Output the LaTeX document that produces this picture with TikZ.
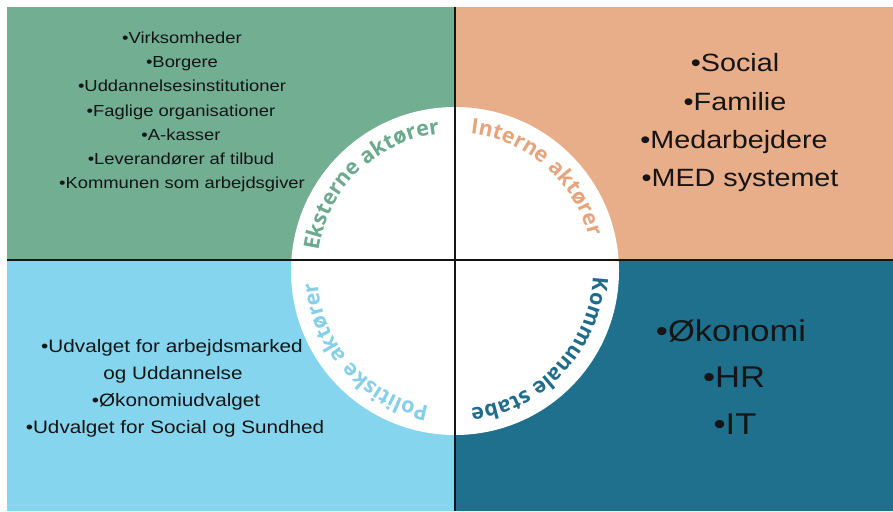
\documentclass[tikz,border=0pt]{standalone}
\usepackage{fontspec}
\setmainfont{Liberation Sans}
\newfontfamily\listfont[FakeStretch=1.15]{Liberation Sans}
\newfontfamily\arcfont{Open Sans}
\usetikzlibrary{decorations.text}
\definecolor{qgreen}{HTML}{72AE92}
\definecolor{qorange}{HTML}{E8AD89}
\definecolor{qlight}{HTML}{86D5EF}
\definecolor{qteal}{HTML}{1E708D}
\definecolor{tgreen}{HTML}{6BAA8E}
\definecolor{torange}{HTML}{E6A47D}
\definecolor{tteal}{HTML}{1F6D8A}
\definecolor{tlight}{HTML}{85CFE9}
\definecolor{ink}{HTML}{151515}
\begin{document}
\begin{tikzpicture}[x=1pt,y=1pt,
  item/.style={inner sep=0pt, anchor=base, text=ink},
  tl/.style={item, font=\listfont\fontsize{16}{19}\selectfont},
  tr/.style={item, font=\listfont\fontsize{25}{30}\selectfont},
  bl/.style={item, font=\listfont\fontsize{18}{22}\selectfont},
  br/.style={item, font=\listfont\fontsize{30}{36}\selectfont},
  divider/.style={draw=ink, line width=1.8pt},
  arclabel/.style 2 args={decorate, decoration={text along path, text align=center,
      text color=#1, text={|\arcfont\bfseries\fontsize{21.5}{25}\selectfont|#2}}}]
\useasboundingbox (0,0) rectangle (893,511);
\fill[white] (0,0) rectangle (893,511);
% quadrants
\fill[qgreen]  (7,251) rectangle (455,504);
\fill[qorange] (455,251) rectangle (893,504);
\fill[qlight]  (7,0) rectangle (455,251);
\fill[qteal]   (455,0) rectangle (893,251);
% circle
\coordinate (c) at (455,240);
\fill[white] (c) circle[radius=164pt];
% dividers
\coordinate (vtop) at (455,504);
\coordinate (vbot) at (455,0);
\coordinate (hl) at (7,251);
\coordinate (hr) at (893,251);
\draw[divider] (vtop) -- (vbot);
\draw[divider] (hl) -- (hr);
% curved labels
\path[arclabel={tgreen}{Eksterne aktører}] (c) ++(179:138) arc[start angle=179,end angle=89,radius=138pt];
\path[arclabel={torange}{Interne aktører}] (c) ++(94:138) arc[start angle=94,end angle=4,radius=138pt];
\path[arclabel={tteal}{Kommunale stabe}] (c) ++(2:138) arc[start angle=2,end angle=-88,radius=138pt];
\path[arclabel={tlight}{Politiske aktører}] (c) ++(-93:138) arc[start angle=-93,end angle=-183,radius=138pt];
% top-left list
\node[tl] (a1) at (182,467.3) {•Virksomheder};
\node[tl] (a2) at (182,443.1) {•Borgere};
\node[tl] (a3) at (182,419.0) {•Uddannelsesinstitutioner};
\node[tl] (a4) at (181,394.8) {•Faglige organisationer};
\node[tl] (a5) at (181,370.6) {•A-kasser};
\node[tl] (a6) at (181,346.5) {•Leverandører af tilbud};
\node[tl] (a7) at (182,322.3) {•Kommunen som arbejdsgiver};
% top-right list
\node[tr] (b1) at (735,439) {•Social};
\node[tr] (b2) at (735,400) {•Familie};
\node[tr] (b3) at (734,362) {•Medarbejdere};
\node[tr] (b4) at (740,324) {•MED systemet};
% bottom-left list
\node[bl] (d1) at (172,158.5) {•Udvalget for arbejdsmarked};
\node[bl] (d2) at (173,131.5) {og Uddannelse};
\node[bl] (d3) at (176,104.5) {•Økonomiudvalget};
\node[bl] (d4) at (175,77.5) {•Udvalget for Social og Sundhed};
% bottom-right list
\node[br] (e1) at (731,169) {•Økonomi};
\node[br] (e2) at (734,123) {•HR};
\node[br] (e3) at (735,77) {•IT};
\end{tikzpicture}
\end{document}
